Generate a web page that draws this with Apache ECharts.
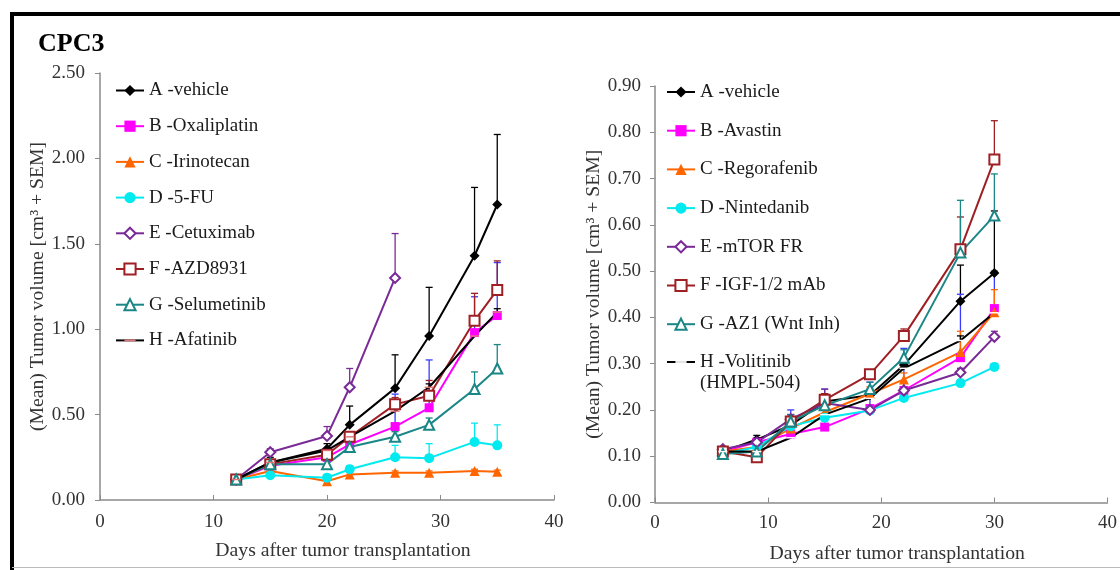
<!DOCTYPE html>
<html>
<head>
<meta charset="utf-8">
<script src="https://cdn.jsdelivr.net/npm/echarts@6/dist/echarts.min.js"></script>
<style>
  html, body { margin: 0; padding: 0; background: #fff; }
  #main { width: 1120px; height: 570px; }
</style>
</head>
<body>
<div id="main"></div>
<script>
// left panel data (CPC3)
var daysL = [12, 15, 20, 22, 26, 29, 33, 35];
var namesL = ['A -vehicle', 'B -Oxaliplatin', 'C -Irinotecan', 'D -5-FU', 'E -Cetuximab', 'F -AZD8931', 'G -Selumetinib', 'H -Afatinib'];
var aL = [0.12, 0.22, 0.30, 0.44, 0.655, 0.96, 1.43, 1.73];
var aLerr = [0.13, 0.25, 0.33, 0.55, 0.85, 1.245, 1.83, 2.14];
var bL = [0.12, 0.20, 0.25, 0.325, 0.43, 0.54, 0.98, 1.08];
var bLerr = [0.13, 0.23, 0.28, 0.36, 0.62, 0.82, 1.19, 1.39];
var cL = [0.12, 0.17, 0.11, 0.15, 0.16, 0.16, 0.17, 0.165];
var cLerr = [0.13, 0.18, 0.12, 0.16, 0.17, 0.17, 0.18, 0.175];
var dL = [0.12, 0.145, 0.13, 0.18, 0.25, 0.245, 0.34, 0.32];
var dLerr = [0.13, 0.16, 0.15, 0.20, 0.32, 0.33, 0.45, 0.44];
var eL = [0.12, 0.28, 0.375, 0.66, 1.30, null, null, null];
var eLerr = [0.13, 0.30, 0.43, 0.77, 1.56, null, null, null];
var fL = [0.12, 0.21, 0.265, 0.37, 0.56, 0.61, 1.05, 1.23];
var fLerr = [0.13, 0.23, 0.29, 0.40, 0.60, 0.70, 1.21, 1.40];
var gL = [0.12, 0.21, 0.21, 0.31, 0.37, 0.44, 0.65, 0.77];
var gLerr = [0.13, 0.23, 0.23, 0.34, 0.40, 0.48, 0.75, 0.91];
var hL = [0.12, 0.22, 0.29, 0.37, 0.52, 0.66, 0.96, 1.10];
var hLerr = [0.13, 0.23, 0.30, 0.39, 0.54, 0.68, 0.98, 1.12];

// right panel data
var daysR = [6, 9, 12, 15, 19, 22, 27, 30];
var namesR = ['A -vehicle', 'B -Avastin', 'C -Regorafenib', 'D -Nintedanib', 'E -mTOR FR', 'F -IGF-1/2 mAb', 'G -AZ1 (Wnt Inh)', 'H -Volitinib (HMPL-504)'];
var aR = [0.11, 0.136, 0.167, 0.218, 0.232, 0.297, 0.435, 0.496];
var aRerr = [0.12, 0.145, 0.18, 0.235, 0.245, 0.31, 0.513, 0.63];
var bR = [0.11, 0.13, 0.148, 0.163, 0.203, 0.242, 0.313, 0.419];
var bRerr = [0.12, 0.14, 0.20, 0.245, 0.26, 0.333, 0.45, 0.50];
var cR = [0.11, 0.12, 0.16, 0.195, 0.235, 0.266, 0.325, 0.411];
var cRerr = [0.12, 0.13, 0.17, 0.21, 0.25, 0.28, 0.37, 0.46];
var dR = [0.105, 0.12, 0.165, 0.183, 0.199, 0.226, 0.258, 0.293];
var dRerr = [0.11, 0.125, 0.17, 0.19, 0.205, 0.232, 0.265, 0.30];
var eR = [0.115, 0.13, 0.18, 0.215, 0.20, 0.242, 0.281, 0.358];
var eRerr = [0.12, 0.135, 0.19, 0.245, 0.21, 0.25, 0.29, 0.37];
var fR = [0.11, 0.098, 0.175, 0.222, 0.277, 0.36, 0.547, 0.741];
var fRerr = [0.115, 0.105, 0.19, 0.235, 0.285, 0.375, 0.617, 0.825];
var gR = [0.105, 0.11, 0.175, 0.21, 0.245, 0.313, 0.54, 0.62];
var gRerr = [0.11, 0.12, 0.19, 0.225, 0.26, 0.33, 0.653, 0.71];
var hR = [0.11, 0.11, 0.14, 0.19, 0.225, 0.29, 0.35, 0.41];
var hRerr = [0.115, 0.115, 0.15, 0.20, 0.235, 0.30, 0.36, 0.42];

var serif = 'Liberation Serif';
// a flat dash marker; the empty moves keep its box square
var dashSymbol = 'path://M0,0L0,0M0,10L0,10M0,4.2L10,4.2L10,5.8L0,5.8Z';

document.addEventListener('DOMContentLoaded', function () {
  var myChart = echarts.init(document.getElementById('main'));

  // marker / colour per series, A..H
  var looks = [
    { color: '#000000', symbol: 'diamond', size: 10, bar: '#000000' },
    { color: '#ff00ff', symbol: 'rect', size: 9, bar: '#3a3aff' },
    { color: '#ff6600', symbol: 'triangle', size: 10, bar: '#ff6600' },
    { color: '#00eaf0', symbol: 'circle', size: 10, bar: '#00eaf0' },
    { color: '#7a2a96', symbol: 'emptyDiamond', size: 10, bar: '#7a2a96' },
    { color: '#9e1f24', symbol: 'emptyRect', size: 10, bar: '#9e1f24' },
    { color: '#1a8686', symbol: 'emptyTriangle', size: 10, bar: '#1a8686' },
    { color: '#000000', symbol: dashSymbol, size: 9, bar: '#000000' }
  ];

  function pairs(days, vals) {
    var out = [];
    for (var i = 0; i < days.length; i++) {
      if (vals[i] != null) out.push([days[i], vals[i]]);
    }
    return out;
  }
  function triples(days, vals, errs) {
    var out = [];
    for (var i = 0; i < days.length; i++) {
      if (vals[i] != null) out.push([days[i], vals[i], errs[i]]);
    }
    return out;
  }

  var series = [];
  function addPanel(idx, days, names, vals, errs, hDash) {
    for (var k = 0; k < names.length; k++) {
      (function (k) {
        var lk = looks[k];
        // error bars first, so markers sit on top
        series.push({
          type: 'custom',
          xAxisIndex: idx, yAxisIndex: idx,
          z: 1,
          silent: true,
          data: triples(days, vals[k], errs[k]),
          renderItem: function (params, api) {
            var p0 = api.coord([api.value(0), api.value(1)]);
            var p1 = api.coord([api.value(0), api.value(2)]);
            var st = { stroke: lk.bar, lineWidth: 1.3 };
            return {
              type: 'group',
              children: [
                { type: 'line', shape: { x1: p0[0], y1: p0[1], x2: p1[0], y2: p1[1] }, style: st },
                { type: 'line', shape: { x1: p1[0] - 3.5, y1: p1[1], x2: p1[0] + 3.5, y2: p1[1] }, style: st }
              ]
            };
          }
        });
        var s = {
          name: names[k],
          type: 'line',
          xAxisIndex: idx, yAxisIndex: idx,
          z: 3,
          data: pairs(days, vals[k]),
          symbol: lk.symbol,
          symbolSize: lk.size,
          showAllSymbol: true,
          lineStyle: { color: lk.color, width: 2 },
          itemStyle: { color: lk.color },
          emphasis: { disabled: true }
        };
        if (k === 7) s.itemStyle = { color: hDash };
        series.push(s);
      })(k);
    }
  }

  addPanel(0, daysL, namesL, [aL, bL, cL, dL, eL, fL, gL, hL],
    [aLerr, bLerr, cLerr, dLerr, eLerr, fLerr, gLerr, hLerr], '#e07878');
  addPanel(1, daysR, namesR, [aR, bR, cR, dR, eR, fR, gR, hR],
    [aRerr, bRerr, cRerr, dRerr, eRerr, fRerr, gRerr, hRerr], '#ffffff');

  var labelFont = { color: '#333', fontFamily: serif, fontSize: 19 };
  var lineGray = { lineStyle: { color: '#8a8a8a', width: 1.5 } };

  function xAx(grid, margin) {
    return {
      type: 'value', gridIndex: grid, min: 0, max: 40, interval: 10,
      name: 'Days after tumor transplantation', nameLocation: 'middle', nameGap: 41,
      // the title sits a little right of the axis centre
      nameTextStyle: { color: '#333', fontFamily: serif, fontSize: 19.7, padding: [0, 0, 0, 32] },
      axisLine: lineGray,
      axisTick: { inside: true, length: 5, lineStyle: { color: '#8a8a8a' } },
      axisLabel: Object.assign({ margin: margin }, labelFont),
      splitLine: { show: false }
    };
  }
  function yAx(grid, max, step, gap, margin) {
    return {
      type: 'value', gridIndex: grid, min: 0, max: max, interval: step,
      name: '(Mean) Tumor volume [cm\u00b3 + SEM]', nameLocation: 'middle', nameGap: gap,
      nameTextStyle: { color: '#333', fontFamily: serif, fontSize: 19.7 },
      axisLine: lineGray,
      axisTick: { length: 5, lineStyle: { color: '#8a8a8a' } },
      axisLabel: Object.assign({ margin: margin, formatter: function (v) { return v.toFixed(2); } }, labelFont),
      splitLine: { show: false }
    };
  }

  var legendText = { color: '#1a1a1a', fontFamily: serif, fontSize: 19 };

  option = {
    animation: false,
    title: {
      text: 'CPC3',
      left: 33, top: 26,
      textStyle: { fontFamily: serif, fontSize: 26, fontWeight: 'bold', color: '#000' }
    },
    grid: [
      { left: 100, right: 566, top: 73, bottom: 70 },
      { left: 655, right: 9, top: 86, bottom: 67.5 }
    ],
    xAxis: [xAx(0, 13), xAx(1, 11)],
    yAxis: [yAx(0, 2.5, 0.5, 45, 15), yAx(1, 0.9, 0.1, 49, 14)],
    legend: [
      {
        data: namesL, orient: 'vertical', left: 110, top: 76,
        itemWidth: 28, itemHeight: 14, itemGap: 16.7,
        selectedMode: false, textStyle: legendText
      },
      {
        data: namesR.slice(0, 7), orient: 'vertical', left: 661, top: 77.5,
        itemWidth: 28, itemHeight: 14, itemGap: 19.7,
        selectedMode: false, textStyle: legendText
      },
      {
        // the two-line entry on its own, first line level with the icon
        data: namesR.slice(7), orient: 'vertical', left: 661, top: 326.5,
        itemWidth: 28, itemHeight: 14,
        selectedMode: false,
        formatter: function (n) {
          return '{two|' + n.replace(' (HMPL', '\n(HMPL') + '}';
        },
        textStyle: Object.assign({}, legendText, {
          rich: { two: { fontFamily: serif, fontSize: 19, color: '#1a1a1a', lineHeight: 21, padding: [21, 0, 0, 0] } }
        })
      }
    ],
    graphic: [
      // the frame round the figure
      { type: 'line', shape: { x1: 12, y1: 14, x2: 1120, y2: 14 }, style: { stroke: '#000', lineWidth: 4 } },
      { type: 'line', shape: { x1: 12, y1: 12, x2: 12, y2: 570 }, style: { stroke: '#000', lineWidth: 4 } },
      { type: 'line', shape: { x1: 12, y1: 567.5, x2: 1120, y2: 567.5 }, style: { stroke: '#bbb', lineWidth: 1 } }
    ],
    series: series
  };
  myChart.setOption(option);
});
</script>
</body>
</html>
